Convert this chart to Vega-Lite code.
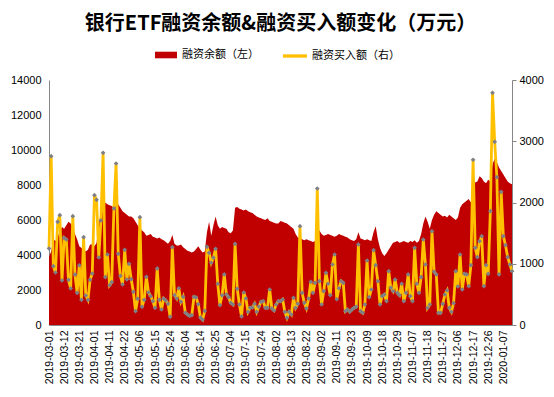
{
"$schema":"https://vega.github.io/schema/vega-lite/v6.json",
"width":463,"height":245,
"autosize":{"type":"none"},
"padding":{"left":49,"top":80,"right":42,"bottom":72},
"background":"white",
"config":{"view":{"stroke":null},"font":"Noto Sans CJK SC"},
"title":{"text":"银行ETF融资余额&融资买入额变化（万元）","fontSize":20,"fontWeight":"bold","color":"#000000","anchor":"middle","offset":10,"font":"Noto Sans CJK SC"},
"datasets":{"t":[
{"d":"2019-03-01","bal":3900,"buy":1249},{"d":"2019-03-04","bal":4200,"buy":2756},{"d":"2019-03-05","bal":4900,"buy":960},{"d":"2019-03-06","bal":4800,"buy":857},{"d":"2019-03-07","bal":5000,"buy":1685},{"d":"2019-03-08","bal":5400,"buy":1793},{"d":"2019-03-11","bal":5600,"buy":727},{"d":"2019-03-12","bal":5500,"buy":1423},{"d":"2019-03-13","bal":5700,"buy":1396},{"d":"2019-03-14","bal":5900,"buy":738},
{"d":"2019-03-15","bal":5800,"buy":596},{"d":"2019-03-18","bal":5600,"buy":1777},{"d":"2019-03-19","bal":5200,"buy":824},{"d":"2019-03-20","bal":4900,"buy":525},{"d":"2019-03-21","bal":4500,"buy":976},{"d":"2019-03-22","bal":4400,"buy":411},{"d":"2019-03-25","bal":4300,"buy":1434},{"d":"2019-03-26","bal":4200,"buy":482},{"d":"2019-03-27","bal":4300,"buy":411},{"d":"2019-03-28","bal":4600,"buy":738},
{"d":"2019-03-29","bal":4600,"buy":841},{"d":"2019-04-01","bal":4500,"buy":2119},{"d":"2019-04-02","bal":4700,"buy":2044},{"d":"2019-04-03","bal":5900,"buy":1102},{"d":"2019-04-04","bal":6300,"buy":1706},{"d":"2019-04-08","bal":6500,"buy":2811},{"d":"2019-04-09","bal":7000,"buy":781},{"d":"2019-04-10","bal":6900,"buy":1151},{"d":"2019-04-11","bal":6850,"buy":650},{"d":"2019-04-12","bal":6800,"buy":700},
{"d":"2019-04-15","bal":6700,"buy":1902},{"d":"2019-04-16","bal":6850,"buy":2637},{"d":"2019-04-17","bal":6900,"buy":1162},{"d":"2019-04-18","bal":6700,"buy":803},{"d":"2019-04-19","bal":6500,"buy":661},{"d":"2019-04-22","bal":6400,"buy":1228},{"d":"2019-04-23","bal":6300,"buy":743},{"d":"2019-04-24","bal":6200,"buy":999},{"d":"2019-04-25","bal":6200,"buy":748},{"d":"2019-04-26","bal":6100,"buy":542},
{"d":"2019-04-29","bal":5900,"buy":225},{"d":"2019-04-30","bal":5700,"buy":428},{"d":"2019-05-06","bal":5500,"buy":1760},{"d":"2019-05-07","bal":5400,"buy":297},{"d":"2019-05-08","bal":5300,"buy":411},{"d":"2019-05-09","bal":5100,"buy":787},{"d":"2019-05-10","bal":5150,"buy":531},{"d":"2019-05-13","bal":5200,"buy":470},{"d":"2019-05-14","bal":5050,"buy":389},{"d":"2019-05-15","bal":5000,"buy":281},
{"d":"2019-05-16","bal":4950,"buy":923},{"d":"2019-05-17","bal":5000,"buy":411},{"d":"2019-05-20","bal":4900,"buy":253},{"d":"2019-05-21","bal":4850,"buy":433},{"d":"2019-05-22","bal":4750,"buy":400},{"d":"2019-05-23","bal":4650,"buy":346},{"d":"2019-05-24","bal":4800,"buy":134},{"d":"2019-05-27","bal":5150,"buy":1271},{"d":"2019-05-28","bal":4650,"buy":487},{"d":"2019-05-29","bal":4550,"buy":433},
{"d":"2019-05-30","bal":4550,"buy":600},{"d":"2019-05-31","bal":4600,"buy":380},{"d":"2019-06-03","bal":4450,"buy":460},{"d":"2019-06-04","bal":4350,"buy":200},{"d":"2019-06-05","bal":4250,"buy":170},{"d":"2019-06-06","bal":4200,"buy":150},{"d":"2019-06-10","bal":4150,"buy":160},{"d":"2019-06-11","bal":4200,"buy":460},{"d":"2019-06-12","bal":4350,"buy":450},{"d":"2019-06-13","bal":4500,"buy":340},
{"d":"2019-06-14","bal":4300,"buy":120},{"d":"2019-06-17","bal":4150,"buy":85},{"d":"2019-06-18","bal":4200,"buy":230},{"d":"2019-06-19","bal":5300,"buy":1277},{"d":"2019-06-20","bal":5900,"buy":1179},{"d":"2019-06-21","bal":5100,"buy":1016},{"d":"2019-06-24","bal":5700,"buy":1100},{"d":"2019-06-25","bal":6200,"buy":1244},{"d":"2019-06-26","bal":5700,"buy":673},{"d":"2019-06-27","bal":5500,"buy":323},
{"d":"2019-06-28","bal":5600,"buy":485},{"d":"2019-07-01","bal":5550,"buy":825},{"d":"2019-07-02","bal":5500,"buy":498},{"d":"2019-07-03","bal":5300,"buy":455},{"d":"2019-07-04","bal":5250,"buy":362},{"d":"2019-07-05","bal":5400,"buy":335},{"d":"2019-07-08","bal":6700,"buy":1326},{"d":"2019-07-09","bal":6750,"buy":591},{"d":"2019-07-10","bal":6650,"buy":335},{"d":"2019-07-11","bal":6600,"buy":140},
{"d":"2019-07-12","bal":6550,"buy":531},{"d":"2019-07-15","bal":6600,"buy":433},{"d":"2019-07-16","bal":6500,"buy":215},{"d":"2019-07-17","bal":6450,"buy":281},{"d":"2019-07-18","bal":6400,"buy":287},{"d":"2019-07-19","bal":6300,"buy":346},{"d":"2019-07-22","bal":6200,"buy":215},{"d":"2019-07-23","bal":6150,"buy":300},{"d":"2019-07-24","bal":6100,"buy":379},{"d":"2019-07-25","bal":6050,"buy":389},
{"d":"2019-07-26","bal":6000,"buy":281},{"d":"2019-07-29","bal":6100,"buy":281},{"d":"2019-07-30","bal":5950,"buy":580},{"d":"2019-07-31","bal":5900,"buy":270},{"d":"2019-08-01","bal":5850,"buy":237},{"d":"2019-08-02","bal":5800,"buy":335},{"d":"2019-08-05","bal":5800,"buy":389},{"d":"2019-08-06","bal":5950,"buy":389},{"d":"2019-08-07","bal":5900,"buy":416},{"d":"2019-08-08","bal":5850,"buy":215},
{"d":"2019-08-09","bal":5800,"buy":117},{"d":"2019-08-12","bal":5700,"buy":215},{"d":"2019-08-13","bal":5600,"buy":171},{"d":"2019-08-14","bal":5500,"buy":444},{"d":"2019-08-15","bal":5200,"buy":281},{"d":"2019-08-16","bal":5000,"buy":346},{"d":"2019-08-19","bal":4950,"buy":1614},{"d":"2019-08-20","bal":4900,"buy":525},{"d":"2019-08-21","bal":4850,"buy":362},{"d":"2019-08-22","bal":4900,"buy":270},
{"d":"2019-08-23","bal":4850,"buy":433},{"d":"2019-08-26","bal":4800,"buy":705},{"d":"2019-08-27","bal":4750,"buy":525},{"d":"2019-08-28","bal":4800,"buy":689},{"d":"2019-08-29","bal":5200,"buy":2229},{"d":"2019-08-30","bal":5400,"buy":716},{"d":"2019-09-02","bal":5200,"buy":335},{"d":"2019-09-03","bal":5100,"buy":553},{"d":"2019-09-04","bal":5150,"buy":852},{"d":"2019-09-05","bal":5200,"buy":673},
{"d":"2019-09-06","bal":5150,"buy":487},{"d":"2019-09-09","bal":5100,"buy":988},{"d":"2019-09-10","bal":5050,"buy":1151},{"d":"2019-09-11","bal":5100,"buy":420},{"d":"2019-09-12","bal":5200,"buy":600},{"d":"2019-09-16","bal":5150,"buy":716},{"d":"2019-09-17","bal":5100,"buy":689},{"d":"2019-09-18","bal":5050,"buy":225},{"d":"2019-09-19","bal":5000,"buy":253},{"d":"2019-09-20","bal":4900,"buy":215},
{"d":"2019-09-23","bal":4850,"buy":250},{"d":"2019-09-24","bal":4800,"buy":281},{"d":"2019-09-25","bal":4900,"buy":297},{"d":"2019-09-26","bal":5300,"buy":1315},{"d":"2019-09-27","bal":4950,"buy":225},{"d":"2019-09-30","bal":4900,"buy":198},{"d":"2019-10-08","bal":4850,"buy":335},{"d":"2019-10-09","bal":4900,"buy":1053},{"d":"2019-10-10","bal":4850,"buy":455},{"d":"2019-10-11","bal":4800,"buy":580},
{"d":"2019-10-14","bal":5300,"buy":1222},{"d":"2019-10-15","bal":5650,"buy":977},{"d":"2019-10-16","bal":4900,"buy":716},{"d":"2019-10-17","bal":4400,"buy":335},{"d":"2019-10-18","bal":4100,"buy":471},{"d":"2019-10-21","bal":3950,"buy":498},{"d":"2019-10-22","bal":4100,"buy":389},{"d":"2019-10-23","bal":4300,"buy":879},{"d":"2019-10-24","bal":4500,"buy":607},{"d":"2019-10-25","bal":4700,"buy":553},
{"d":"2019-10-28","bal":4750,"buy":743},{"d":"2019-10-29","bal":4800,"buy":525},{"d":"2019-10-30","bal":4700,"buy":487},{"d":"2019-10-31","bal":4750,"buy":673},{"d":"2019-11-01","bal":4800,"buy":389},{"d":"2019-11-04","bal":4750,"buy":525},{"d":"2019-11-05","bal":4700,"buy":825},{"d":"2019-11-06","bal":4800,"buy":471},{"d":"2019-11-07","bal":4750,"buy":389},{"d":"2019-11-08","bal":4850,"buy":1260},
{"d":"2019-11-11","bal":4700,"buy":673},{"d":"2019-11-12","bal":4800,"buy":525},{"d":"2019-11-13","bal":5200,"buy":781},{"d":"2019-11-14","bal":5800,"buy":1396},{"d":"2019-11-15","bal":6200,"buy":988},{"d":"2019-11-18","bal":5900,"buy":281},{"d":"2019-11-19","bal":5500,"buy":335},{"d":"2019-11-20","bal":6000,"buy":1532},{"d":"2019-11-21","bal":6300,"buy":869},{"d":"2019-11-22","bal":6500,"buy":825},
{"d":"2019-11-25","bal":6400,"buy":199},{"d":"2019-11-26","bal":6300,"buy":199},{"d":"2019-11-27","bal":6200,"buy":346},{"d":"2019-11-28","bal":6250,"buy":498},{"d":"2019-11-29","bal":6150,"buy":564},{"d":"2019-12-02","bal":6300,"buy":281},{"d":"2019-12-03","bal":6200,"buy":215},{"d":"2019-12-04","bal":6100,"buy":357},{"d":"2019-12-05","bal":6000,"buy":879},{"d":"2019-12-06","bal":6150,"buy":629},
{"d":"2019-12-09","bal":6700,"buy":1151},{"d":"2019-12-10","bal":6900,"buy":580},{"d":"2019-12-11","bal":7000,"buy":836},{"d":"2019-12-12","bal":7100,"buy":825},{"d":"2019-12-13","bal":7200,"buy":634},{"d":"2019-12-16","bal":7000,"buy":977},{"d":"2019-12-17","bal":8100,"buy":2698},{"d":"2019-12-18","bal":8150,"buy":1260},{"d":"2019-12-19","bal":8200,"buy":1108},{"d":"2019-12-20","bal":8500,"buy":1369},
{"d":"2019-12-23","bal":8400,"buy":1450},{"d":"2019-12-24","bal":8200,"buy":634},{"d":"2019-12-25","bal":8100,"buy":977},{"d":"2019-12-26","bal":8300,"buy":836},{"d":"2019-12-27","bal":8200,"buy":1859},{"d":"2019-12-30","bal":9200,"buy":3791},{"d":"2019-12-31","bal":9500,"buy":2991},{"d":"2020-01-02","bal":9300,"buy":2414},{"d":"2020-01-03","bal":9000,"buy":825},{"d":"2020-01-06","bal":8800,"buy":2175},
{"d":"2020-01-07","bal":8600,"buy":1450},{"d":"2020-01-08","bal":8400,"buy":1303},{"d":"2020-01-09","bal":8200,"buy":1108},{"d":"2020-01-10","bal":8100,"buy":988},{"d":"2020-01-13","bal":8050,"buy":879}
]},
"data":{"name":"t"},
"encoding":{
 "x":{"field":"d","type":"ordinal","sort":null,"scale":{"type":"point","padding":0},
  "axis":{"title":null,"values":["2019-03-01","2019-03-12","2019-03-21","2019-04-01","2019-04-11","2019-04-22","2019-05-06","2019-05-15","2019-05-24","2019-06-04","2019-06-14","2019-06-25","2019-07-04","2019-07-15","2019-07-24","2019-08-02","2019-08-13","2019-08-22","2019-09-02","2019-09-11","2019-09-23","2019-10-09","2019-10-18","2019-10-29","2019-11-07","2019-11-18","2019-11-27","2019-12-06","2019-12-17","2019-12-26","2020-01-07"],
  "labelAngle":-90,"labelFont":"Liberation Sans","labelFontSize":10.5,"labelColor":"#000000","ticks":false,"domainColor":"#868686","grid":false,"labelPadding":5}}
},
"layer":[
 {"mark":{"type":"area","color":"#C00000","opacity":1},
  "encoding":{
   "y":{"field":"bal","type":"quantitative","scale":{"domain":[0,14000],"nice":false},
    "axis":{"title":null,"values":[0,2000,4000,6000,8000,10000,12000,14000],"format":"d","labelFont":"Liberation Sans","labelFontSize":11,"labelColor":"#000000","ticks":false,"domainColor":"#868686","grid":false,"labelPadding":8}},
   "color":{"datum":"融资余额（左）","type":"nominal","scale":{"domain":["融资余额（左）"],"range":["#C00000"]},
    "legend":{"orient":"none","legendX":106,"legendY":-36,"title":null,"labelFontSize":11,"labelColor":"#000000","labelFont":"Noto Sans CJK SC","symbolType":"M-1,-0.3H1V0.3H-1Z","symbolSize":484,"symbolStrokeWidth":0,"labelOffset":5}}
  }},
 {"layer":[
  {"mark":{"type":"line","strokeWidth":2.8},
   "encoding":{
    "y":{"field":"buy","type":"quantitative","scale":{"domain":[0,4000],"nice":false},
     "axis":{"orient":"right","title":null,"values":[0,500,1000,1500,2000,2500,3000,3500,4000],"format":"d","labelFont":"Liberation Sans","labelFontSize":11,"labelColor":"#000000","ticks":true,"tickSize":4,"tickColor":"#868686","domainColor":"#868686","grid":false,"labelPadding":3}},
    "color":{"datum":"融资买入额（右）","type":"nominal","scale":{"domain":["融资买入额（右）"],"range":["#FFC000"]},
     "legend":{"orient":"none","legendX":234,"legendY":-36,"title":null,"labelFontSize":11,"labelColor":"#000000","labelFont":"Noto Sans CJK SC","symbolType":"M-1,-0.06H1V0.06H-1Z","symbolSize":484,"symbolStrokeWidth":2,"labelOffset":5}}}},
  {"mark":{"type":"point","shape":"diamond","filled":true,"color":"#7F7F87","size":22,"opacity":1},
   "encoding":{"y":{"field":"buy","type":"quantitative"}}}
 ]}
],
"resolve":{"scale":{"y":"independent","color":"independent"}}
}
